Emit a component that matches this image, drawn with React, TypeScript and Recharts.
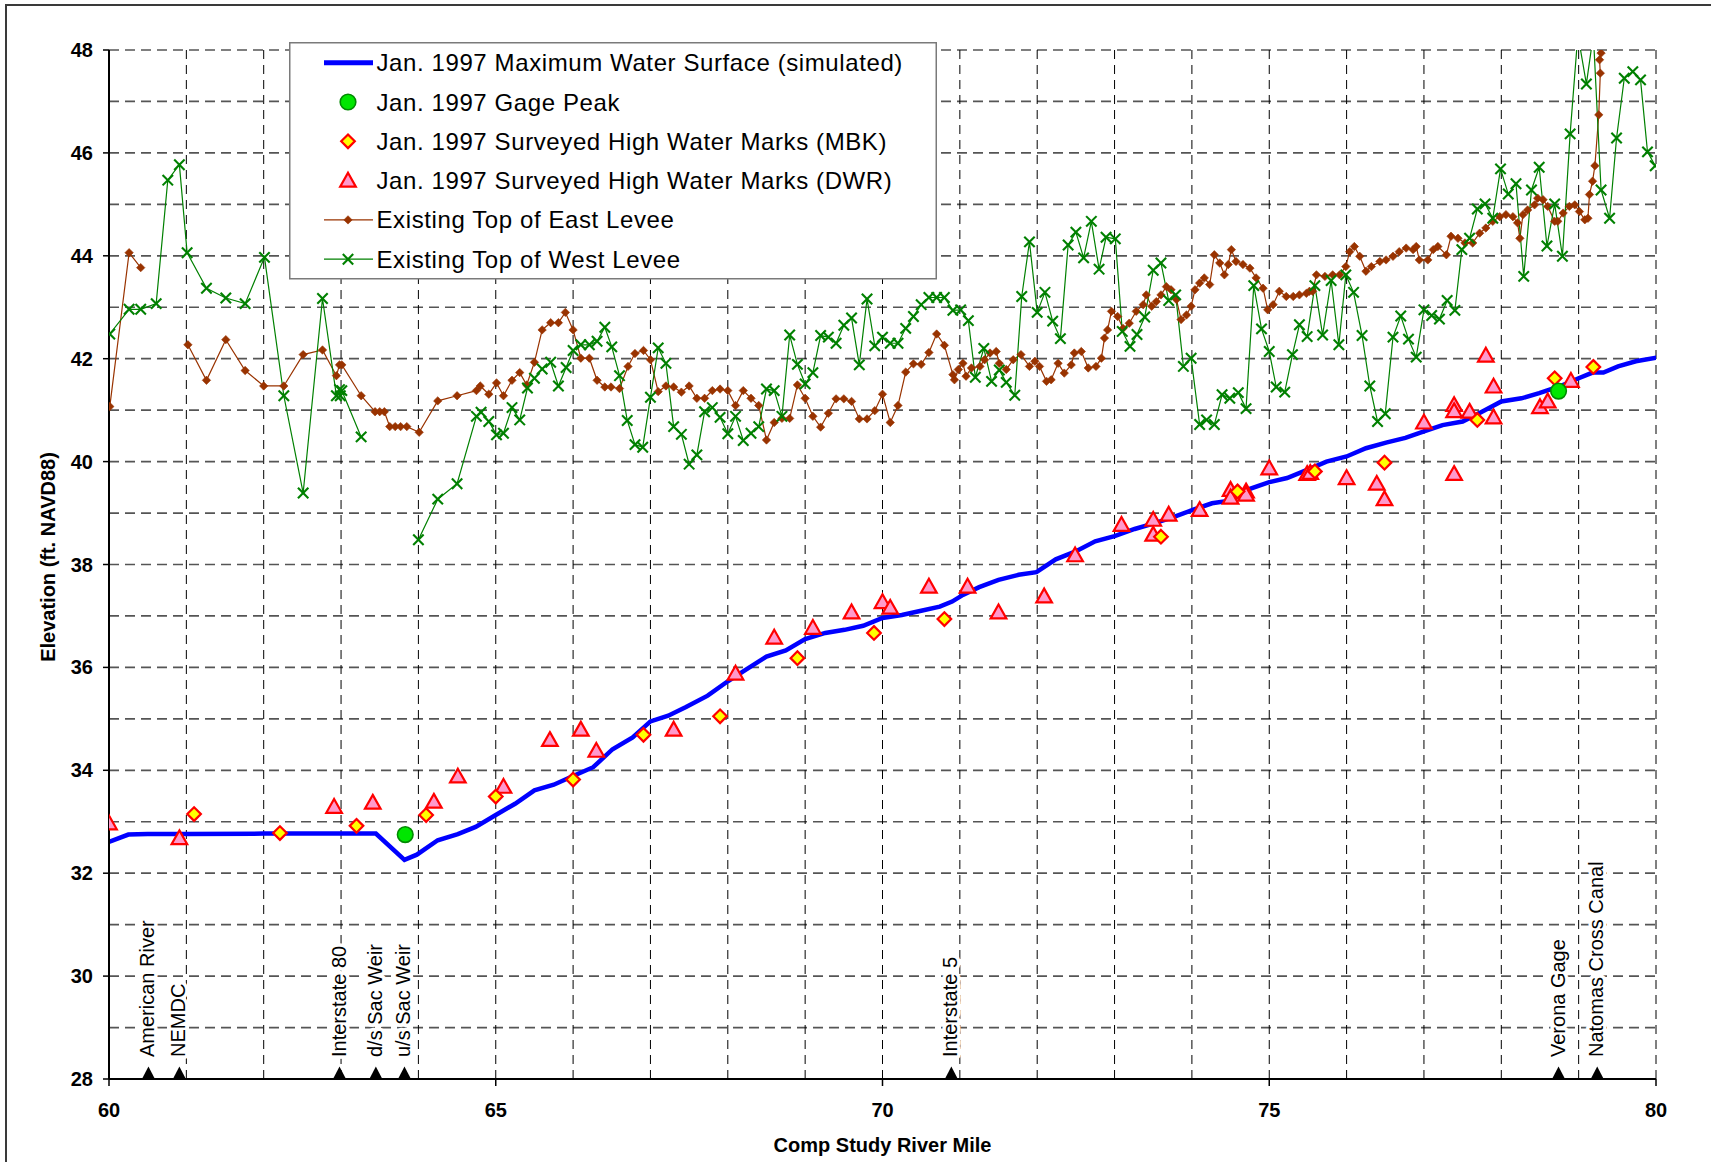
import React from "react";
import { ComposedChart, Line, Scatter, XAxis, YAxis, CartesianGrid, Label } from "recharts";

const FONT = '"Liberation Sans", Arial, Helvetica, sans-serif';

// axis ticks (grid every mile / every foot, labels on 5 miles / 2 ft)
const mileTicks = [60, 61, 62, 63, 64, 65, 66, 67, 68, 69, 70, 71, 72, 73, 74, 75, 76, 77, 78, 79, 80];
const elevTicks = [28, 29, 30, 31, 32, 33, 34, 35, 36, 37, 38, 39, 40, 41, 42, 43, 44, 45, 46, 47, 48];

// Jan. 1997 max water surface (simulated)
const simMile = [59.9, 60.25, 60.5, 61, 62, 63, 63.45, 63.82, 63.98, 64.25, 64.51, 64.74, 65.0, 65.25, 65.5, 65.75, 66.0, 66.26, 66.51, 66.77, 67.0, 67.23, 67.46, 67.74, 68.0, 68.25, 68.5, 68.75, 69.0, 69.26, 69.51, 69.75, 70.0, 70.25, 70.5, 70.74, 70.9, 71.04, 71.25, 71.5, 71.76, 71.99, 72.24, 72.49, 72.75, 73.0, 73.26, 73.51, 73.76, 74.01, 74.26, 74.49, 74.75, 75.0, 75.23, 75.49, 75.74, 76.0, 76.25, 76.51, 76.76, 77.01, 77.24, 77.5, 77.75, 78.0, 78.26, 78.49, 78.75, 79.0, 79.18, 79.32, 79.51, 79.74, 80.09];
const simElev = [32.55, 32.75, 32.76, 32.76, 32.77, 32.77, 32.77, 32.26, 32.36, 32.64, 32.76, 32.9, 33.13, 33.35, 33.61, 33.72, 33.89, 34.06, 34.41, 34.64, 34.95, 35.06, 35.23, 35.45, 35.73, 35.97, 36.21, 36.33, 36.55, 36.67, 36.73, 36.81, 36.96, 37.02, 37.1, 37.18, 37.28, 37.41, 37.56, 37.7, 37.8, 37.85, 38.1, 38.25, 38.45, 38.55, 38.69, 38.8, 38.92, 39.06, 39.19, 39.24, 39.47, 39.6, 39.68, 39.84, 40.0, 40.1, 40.26, 40.37, 40.46, 40.59, 40.71, 40.78, 40.97, 41.17, 41.23, 41.33, 41.46, 41.62, 41.73, 41.73, 41.85, 41.95, 42.04];

const gagePeaks = [[63.83, 32.75], [78.74, 41.37]];

const mbkMarks = [
  [61.1, 33.15], [62.21, 32.78], [63.2, 32.92], [64.1, 33.13], [65.0, 33.49], [66.0, 33.82],
  [66.91, 34.69], [67.9, 35.05], [68.9, 36.18], [69.89, 36.67], [70.8, 36.94], [73.6, 38.54],
  [74.59, 39.42], [75.59, 39.81], [76.49, 39.98], [77.69, 40.81], [78.69, 41.62], [79.19, 41.84],
];

const dwrMarks = [
  [60.0, 32.97], [60.91, 32.68], [62.91, 33.29], [63.41, 33.37], [64.2, 33.39], [64.51, 33.88],
  [65.1, 33.68], [65.7, 34.59], [66.1, 34.79], [66.3, 34.38], [67.3, 34.79], [68.1, 35.88],
  [68.6, 36.58], [69.1, 36.77], [69.6, 37.07], [70.0, 37.27], [70.1, 37.16], [70.6, 37.57],
  [71.1, 37.57], [71.5, 37.07], [72.09, 37.38], [72.49, 38.18], [73.09, 38.77], [73.5, 38.87],
  [73.5, 38.58], [73.7, 38.97], [74.1, 39.06], [74.5, 39.45], [74.5, 39.3], [74.7, 39.42],
  [74.7, 39.36], [75.0, 39.87], [75.49, 39.76], [75.53, 39.78], [76.0, 39.68], [76.39, 39.57],
  [76.49, 39.27], [77.0, 40.76], [77.39, 41.1], [77.39, 40.98], [77.39, 39.76], [77.59, 40.97],
  [77.8, 42.06], [77.9, 41.46], [77.9, 40.86], [78.5, 41.06], [78.6, 41.17], [78.9, 41.57],
];

// existing top of east levee (null = gap in survey)
const eastLevee = [
  [59.9, 40.36], [60.01, 41.07], [60.26, 44.06], [60.41, 43.77], [60.7, null],
  [61.02, 42.27], [61.26, 41.58], [61.51, 42.37], [61.76, 41.77], [62.0, 41.47], [62.26, 41.47],
  [62.51, 42.08], [62.76, 42.17], [62.94, 41.67], [62.98, 41.88], [63.01, 41.88], [63.26, 41.28],
  [63.44, 40.97], [63.5, 40.97], [63.56, 40.97], [63.63, 40.68], [63.7, 40.68], [63.77, 40.68],
  [63.85, 40.68], [64.01, 40.57], [64.25, 41.18], [64.5, 41.28], [64.75, 41.38], [64.8, 41.47],
  [64.91, 41.31], [65.01, 41.53], [65.1, 41.28], [65.21, 41.58], [65.31, 41.73], [65.4, 41.49],
  [65.5, 41.93], [65.6, 42.56], [65.71, 42.7], [65.81, 42.7], [65.9, 42.9], [66.0, 42.56],
  [66.1, 42.01], [66.21, 42.01], [66.31, 41.58], [66.41, 41.45], [66.49, 41.45], [66.6, 41.42],
  [66.71, 41.85], [66.8, 42.1], [66.91, 42.16], [67.0, 41.98], [67.1, 41.36], [67.2, 41.47],
  [67.3, 41.45], [67.4, 41.35], [67.5, 41.47], [67.6, 41.23], [67.7, 41.23], [67.8, 41.38],
  [67.9, 41.41], [68.0, 41.38], [68.1, 41.09], [68.2, 41.38], [68.3, 41.23], [68.4, 41.09],
  [68.5, 40.42], [68.6, 40.76], [68.7, 40.84], [68.8, 40.84], [68.9, 41.49], [69.0, 41.23],
  [69.1, 40.88], [69.2, 40.67], [69.3, 40.94], [69.4, 41.22], [69.5, 41.22], [69.6, 41.17],
  [69.7, 40.83], [69.8, 40.83], [69.9, 40.99], [70.0, 41.31], [70.1, 40.76], [70.2, 41.09],
  [70.3, 41.74], [70.4, 41.9], [70.5, 41.89], [70.6, 42.12], [70.7, 42.48], [70.8, 42.26],
  [70.91, 41.69], [70.93, 41.59], [70.98, 41.79], [71.04, 41.91], [71.08, 41.66], [71.15, 41.82],
  [71.26, 41.85], [71.32, 41.98], [71.39, 42.11], [71.47, 42.14], [71.51, 41.91], [71.6, 41.79],
  [71.69, 41.98], [71.79, 42.08], [71.9, 41.85], [71.97, 41.95], [72.03, 41.85], [72.12, 41.56],
  [72.18, 41.59], [72.27, 41.91], [72.35, 41.72], [72.44, 41.88], [72.48, 42.11], [72.57, 42.14],
  [72.66, 41.82], [72.76, 41.85], [72.83, 42.01], [72.87, 42.4], [72.91, 42.56], [72.96, 42.92],
  [73.04, 42.82], [73.11, 42.59], [73.19, 42.69], [73.28, 42.92], [73.37, 43.05], [73.41, 43.24],
  [73.48, 43.02], [73.54, 43.11], [73.6, 43.24], [73.67, 43.4], [73.73, 43.34], [73.8, 43.15],
  [73.86, 42.76], [73.93, 42.85], [73.99, 43.02], [74.04, 43.34], [74.1, 43.47], [74.16, 43.57],
  [74.23, 43.44], [74.29, 44.02], [74.36, 43.86], [74.42, 43.63], [74.47, 43.83], [74.51, 44.12],
  [74.57, 43.89], [74.66, 43.83], [74.75, 43.76], [74.83, 43.57], [74.92, 43.37], [74.98, 42.95],
  [75.05, 43.05], [75.13, 43.31], [75.22, 43.21], [75.31, 43.21], [75.39, 43.24], [75.48, 43.27],
  [75.52, 43.31], [75.56, 43.31], [75.61, 43.63], [75.72, 43.6], [75.82, 43.63], [75.91, 43.63],
  [75.99, 43.79], [76.04, 44.08], [76.1, 44.18], [76.17, 43.99], [76.25, 43.7], [76.32, 43.79],
  [76.43, 43.89], [76.51, 43.92], [76.6, 43.99], [76.68, 44.08], [76.77, 44.15], [76.86, 44.12],
  [76.9, 44.18], [76.94, 43.92], [77.05, 43.92], [77.12, 44.12], [77.18, 44.18], [77.29, 44.02],
  [77.35, 44.38], [77.44, 44.34], [77.53, 44.25], [77.63, 44.25], [77.72, 44.44], [77.8, 44.54],
  [77.89, 44.67], [77.98, 44.76], [78.06, 44.8], [78.15, 44.76], [78.21, 44.64], [78.24, 44.34],
  [78.28, 44.8], [78.34, 44.89], [78.43, 44.99], [78.47, 45.12], [78.54, 45.09], [78.6, 44.96],
  [78.69, 44.67], [78.73, 44.67], [78.8, 44.83], [78.88, 44.96], [78.95, 44.99], [79.01, 44.86],
  [79.08, 44.7], [79.12, 44.73], [79.14, 45.19], [79.18, 45.45], [79.21, 45.75], [79.26, 46.74],
  [79.28, 47.55], [79.27, 47.81], [79.29, 47.94],
];

// existing top of west levee
const westLevee = [
  [59.92, 41.59], [60.01, 42.48], [60.26, 42.96], [60.41, 42.96], [60.61, 43.07], [60.76, 45.47],
  [60.91, 45.77], [61.01, 44.06], [61.26, 43.37], [61.51, 43.18], [61.76, 43.07], [62.01, 43.97],
  [62.26, 41.28], [62.51, 39.39], [62.76, 43.17], [62.94, 41.28], [62.98, 41.4], [62.99, 41.28],
  [63.01, 41.38], [63.26, 40.48], [63.6, null],
  [64.0, 38.48], [64.25, 39.27], [64.5, 39.57], [64.75, 40.88], [64.81, 40.96], [64.91, 40.78],
  [65.01, 40.52], [65.1, 40.55], [65.21, 41.05], [65.31, 40.81], [65.41, 41.43], [65.5, 41.62],
  [65.6, 41.8], [65.71, 41.93], [65.81, 41.47], [65.91, 41.83], [66.0, 42.16], [66.1, 42.27],
  [66.21, 42.27], [66.31, 42.34], [66.41, 42.61], [66.5, 42.23], [66.6, 41.67], [66.7, 40.8],
  [66.8, 40.33], [66.9, 40.28], [67.0, 41.25], [67.1, 42.21], [67.2, 41.91], [67.3, 40.68],
  [67.4, 40.53], [67.5, 39.95], [67.6, 40.13], [67.7, 40.97], [67.8, 41.05], [67.9, 40.86],
  [68.0, 40.54], [68.1, 40.88], [68.2, 40.41], [68.3, 40.55], [68.4, 40.68], [68.5, 41.41],
  [68.6, 41.38], [68.7, 40.88], [68.8, 42.46], [68.9, 41.89], [69.0, 41.51], [69.1, 41.73],
  [69.2, 42.45], [69.3, 42.42], [69.4, 42.3], [69.5, 42.65], [69.6, 42.79], [69.7, 41.88],
  [69.8, 43.16], [69.9, 42.25], [70.0, 42.42], [70.1, 42.3], [70.2, 42.3], [70.3, 42.59],
  [70.4, 42.82], [70.5, 43.05], [70.6, 43.19], [70.7, 43.19], [70.8, 43.19], [70.91, 42.94],
  [71.01, 42.95], [71.11, 42.74], [71.2, 41.64], [71.31, 42.2], [71.41, 41.56], [71.51, 41.78],
  [71.6, 41.54], [71.71, 41.29], [71.8, 43.21], [71.9, 44.27], [72.0, 42.9], [72.1, 43.29],
  [72.2, 42.73], [72.3, 42.39], [72.4, 44.21], [72.5, 44.46], [72.6, 43.96], [72.7, 44.67],
  [72.8, 43.74], [72.89, 44.36], [73.01, 44.33], [73.1, 42.53], [73.2, 42.24], [73.29, 42.47],
  [73.39, 42.81], [73.5, 43.72], [73.6, 43.86], [73.7, 43.13], [73.79, 43.24], [73.89, 41.85],
  [73.99, 42.01], [74.1, 40.72], [74.19, 40.81], [74.29, 40.72], [74.39, 41.3], [74.49, 41.23],
  [74.6, 41.34], [74.7, 41.03], [74.8, 43.42], [74.9, 42.58], [75.0, 42.14], [75.09, 41.45],
  [75.2, 41.35], [75.3, 42.08], [75.39, 42.66], [75.49, 42.43], [75.59, 43.42], [75.69, 42.46],
  [75.8, 43.52], [75.9, 42.27], [75.99, 43.63], [76.09, 43.29], [76.2, 42.45], [76.3, 41.47],
  [76.4, 40.78], [76.5, 40.93], [76.6, 42.42], [76.7, 42.83], [76.8, 42.38], [76.9, 42.03],
  [77.0, 42.95], [77.1, 42.84], [77.2, 42.77], [77.3, 43.13], [77.4, 42.94], [77.49, 44.12],
  [77.59, 44.34], [77.69, 44.91], [77.79, 45.01], [77.89, 44.73], [77.99, 45.69], [78.09, 45.2],
  [78.19, 45.4], [78.29, 43.6], [78.39, 45.28], [78.49, 45.72], [78.59, 44.19], [78.69, 45.01],
  [78.79, 43.99], [78.89, 46.37], [78.99, 48.3], [79.1, 47.34], [79.19, 48.3], [79.29, 45.28],
  [79.4, 44.73], [79.49, 46.29], [79.59, 47.45], [79.7, 47.58], [79.8, 47.42], [79.89, 46.02],
  [79.99, 45.75], [80.09, 45.8],
];

const landmarkNames = ["American River", "NEMDC", "Interstate 80", "d/s Sac Weir", "u/s Sac Weir", "Interstate 5", "Verona Gage", "Natomas Cross Canal"];
const landmarkMiles = [60.51, 60.91, 62.98, 63.45, 63.82, 70.89, 78.74, 79.24];

const toPts = (arr: (number | null)[][]) => arr.map(([x, y]) => ({ x, y }));

const simData = simMile.map((x, i) => ({ x, y: simElev[i] }));
const landmarkData = landmarkMiles.map((x, i) => ({ x, y: 28, name: landmarkNames[i] }));

const ok = (v: any) => typeof v === "number" && Number.isFinite(v);

function EastDot(props: any) {
  const { cx, cy, index, value } = props;
  if (!ok(cx) || !ok(cy) || value == null) return <g key={`e${index}`} />;
  const s = 4.2;
  return (
    <path key={`e${index}`} d={`M${cx},${cy - s}L${cx + s},${cy}L${cx},${cy + s}L${cx - s},${cy}Z`} fill="#993300" stroke="#993300" strokeWidth={0.6} />
  );
}

function WestDot(props: any) {
  const { cx, cy, index, value } = props;
  if (!ok(cx) || !ok(cy) || value == null) return <g key={`w${index}`} />;
  const s = 5.2;
  return (
    <g key={`w${index}`} stroke="#008000" strokeWidth={2.1}>
      <line x1={cx - s} y1={cy - s} x2={cx + s} y2={cy + s} />
      <line x1={cx - s} y1={cy + s} x2={cx + s} y2={cy - s} />
    </g>
  );
}

const Diamond = (props: any) => {
  const { cx, cy } = props;
  if (!ok(cx) || !ok(cy)) return <g />;
  const s = 6.8;
  return <path d={`M${cx},${cy - s}L${cx + s},${cy}L${cx},${cy + s}L${cx - s},${cy}Z`} fill="#FFFF00" stroke="#FF0000" strokeWidth={2.2} />;
};

const Triangle = (props: any) => {
  const { cx, cy } = props;
  if (!ok(cx) || !ok(cy)) return <g />;
  return <path d={`M${cx},${cy - 7.8}L${cx + 7.8},${cy + 6}L${cx - 7.8},${cy + 6}Z`} fill="#FF99CC" stroke="#FF0000" strokeWidth={2.2} />;
};

const GageDot = (props: any) => {
  const { cx, cy } = props;
  if (!ok(cx) || !ok(cy)) return <g />;
  return <circle cx={cx} cy={cy} r={7.8} fill="#00E600" stroke="#008A00" strokeWidth={1.6} />;
};

const Landmark = (props: any) => {
  const { cx, cy, payload } = props;
  if (!ok(cx) || !ok(cy)) return <g />;
  return (
    <g>
      <text
        transform={`translate(${cx + 6},${cy - 22}) rotate(-90)`}
        fontFamily={FONT}
        fontSize={20}
        fill="#000"
        stroke="#fff"
        strokeWidth={7}
        paintOrder="stroke"
        strokeLinejoin="round"
      >
        {payload.name}
      </text>
      <path d={`M${cx - 6.5},${cy}L${cx + 6.5},${cy}L${cx},${cy - 12.5}Z`} fill="#000" />
    </g>
  );
};

const ElevTick = (props: any) => {
  const { x, y, payload } = props;
  const v = payload.value;
  if (v % 2 !== 0) return <g />;
  return (
    <g>
      <line x1={x - 6} x2={x} y1={y} y2={y} stroke="#000" strokeWidth={1.5} />
      <text x={x - 16} y={y} textAnchor="end" dominantBaseline="central" fontFamily={FONT} fontSize={20} fontWeight="bold" fill="#000">
        {v}
      </text>
    </g>
  );
};

const MileTick = (props: any) => {
  const { x, y, payload } = props;
  const v = payload.value;
  if (v % 5 !== 0) return <g />;
  return (
    <g>
      <line x1={x} x2={x} y1={y} y2={y + 7} stroke="#000" strokeWidth={1.5} />
      <text x={x} y={y + 31} textAnchor="middle" dominantBaseline="central" fontFamily={FONT} fontSize={20} fontWeight="bold" fill="#000">
        {v}
      </text>
    </g>
  );
};

const legendRows = [
  "Jan. 1997 Maximum Water Surface (simulated)",
  "Jan. 1997 Gage Peak",
  "Jan. 1997 Surveyed High Water Marks (MBK)",
  "Jan. 1997 Surveyed High Water Marks (DWR)",
  "Existing Top of East Levee",
  "Existing Top of West Levee",
];

function LegendBox() {
  const rowY = (i: number) => 20.7 + i * 39.3;
  const sx = 59;
  return (
    <svg width={648} height={238} style={{ position: "absolute", left: 289, top: 42, overflow: "visible" }}>
      <rect x={0.75} y={0.75} width={646.5} height={236} fill="#fff" stroke="#7a7a7a" strokeWidth={1.5} />
      <line x1={35} x2={84} y1={rowY(0)} y2={rowY(0)} stroke="#0000FF" strokeWidth={5} />
      <GageDot cx={sx} cy={rowY(1)} />
      <Diamond cx={sx} cy={rowY(2)} />
      <Triangle cx={sx} cy={rowY(3)} />
      <line x1={35} x2={84} y1={rowY(4)} y2={rowY(4)} stroke="#993300" strokeWidth={1.2} />
      <EastDot cx={sx} cy={rowY(4)} value={1} index={0} />
      <line x1={35} x2={84} y1={rowY(5)} y2={rowY(5)} stroke="#008000" strokeWidth={1.2} />
      <WestDot cx={sx} cy={rowY(5)} value={1} index={0} />
      {legendRows.map((t, i) => (
        <text key={t} x={87.5} y={rowY(i)} dominantBaseline="central" fontFamily={FONT} fontSize={24} letterSpacing={0.6} fill="#000">
          {t}
        </text>
      ))}
    </svg>
  );
}

export default function App() {
  return (
    <div style={{ position: "absolute", left: 0, top: 0, width: 1711, height: 1162, background: "#fff", overflow: "hidden" }}>
      <div style={{ position: "absolute", left: 5, top: 4, width: 1800, height: 1300, borderLeft: "2px solid #3a3a3a", borderTop: "2px solid #3a3a3a" }} />
      <ComposedChart width={1711} height={1162} margin={{ top: 50, right: 55, bottom: 0, left: 0 }}>
        <CartesianGrid horizontal vertical={false} stroke="#555" strokeWidth={1.7} strokeDasharray="10 6" />
        <CartesianGrid horizontal={false} vertical stroke="#000" strokeWidth={1} strokeDasharray="9 6" />
        <XAxis
          type="number"
          dataKey="x"
          domain={[60, 80]}
          ticks={mileTicks}
          interval={0}
          allowDataOverflow
          height={83}
          tick={<MileTick />}
          tickLine={false}
          tickSize={0}
          tickMargin={0}
          axisLine={{ stroke: "#000", strokeWidth: 2 }}
        >
          <Label
            content={(p: any) => (
              <text x={p.viewBox.x + p.viewBox.width / 2} y={1145} textAnchor="middle" dominantBaseline="central" fontFamily={FONT} fontSize={20} fontWeight="bold" fill="#000">
                Comp Study River Mile
              </text>
            )}
          />
        </XAxis>
        <YAxis
          type="number"
          dataKey="y"
          domain={[28, 48]}
          ticks={elevTicks}
          interval={0}
          allowDataOverflow
          width={109}
          tick={<ElevTick />}
          tickLine={false}
          tickSize={0}
          tickMargin={0}
          axisLine={{ stroke: "#000", strokeWidth: 2 }}
        >
          <Label
            content={() => (
              <text transform="translate(48,557) rotate(-90)" textAnchor="middle" dominantBaseline="central" fontFamily={FONT} fontSize={20} fontWeight="bold" fill="#000">
                Elevation (ft. NAVD88)
              </text>
            )}
          />
        </YAxis>
        <Scatter data={landmarkData} dataKey="y" shape={<Landmark />} isAnimationActive={false} />
        <Line data={toPts(eastLevee)} dataKey="y" type="linear" stroke="#993300" strokeWidth={1.2} dot={EastDot} activeDot={false} connectNulls={false} isAnimationActive={false} />
        <Line data={toPts(westLevee)} dataKey="y" type="linear" stroke="#008000" strokeWidth={1.2} dot={WestDot} activeDot={false} connectNulls={false} isAnimationActive={false} />
        <Line data={simData} dataKey="y" type="linear" stroke="#0000FF" strokeWidth={4.5} dot={false} activeDot={false} isAnimationActive={false} />
        <Scatter data={toPts(dwrMarks)} dataKey="y" shape={<Triangle />} isAnimationActive={false} />
        <Scatter data={toPts(mbkMarks)} dataKey="y" shape={<Diamond />} isAnimationActive={false} />
        <Scatter data={toPts(gagePeaks)} dataKey="y" shape={<GageDot />} isAnimationActive={false} />
      </ComposedChart>
      <LegendBox />
    </div>
  );
}
